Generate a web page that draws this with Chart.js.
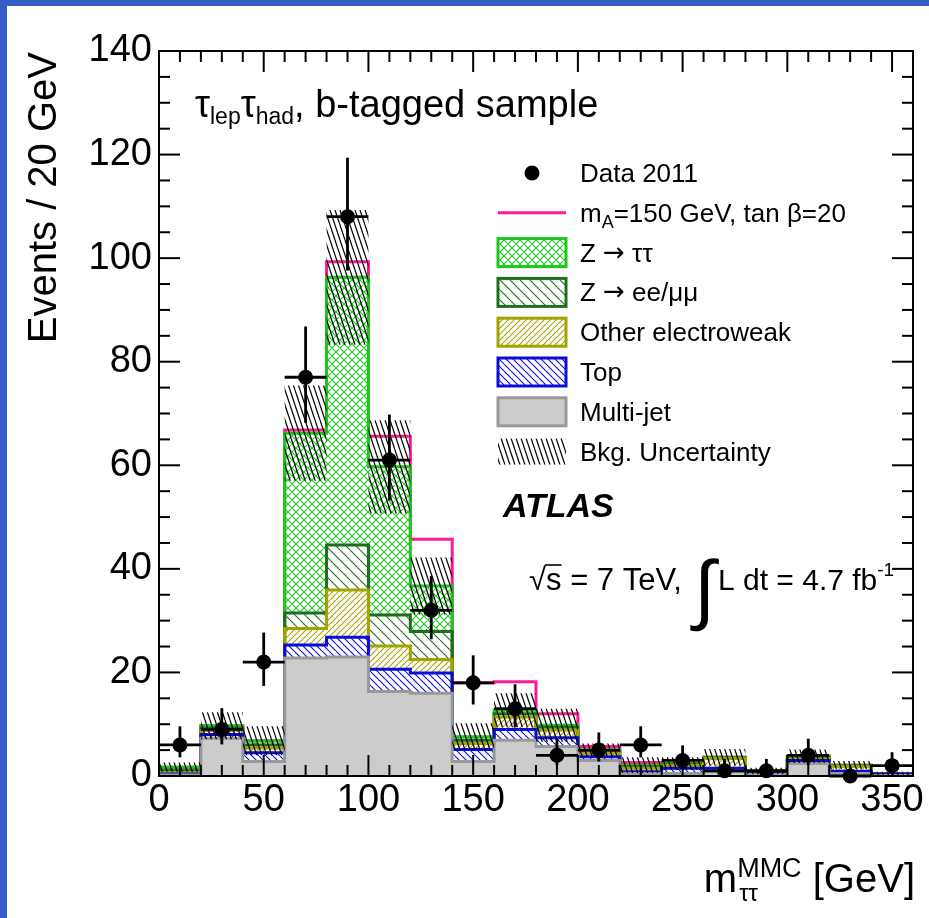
<!DOCTYPE html>
<html>
<head>
<meta charset="utf-8">
<script src="https://cdn.jsdelivr.net/npm/chart.js@4.4.1/dist/chart.umd.min.js"></script>
<style>
  html, body { margin: 0; padding: 0; background: #fff; }
  #wrap { position: relative; width: 929px; height: 918px; overflow: hidden; background: #fff; }
  #wrap canvas { position: absolute; left: 0; top: 0; }
  .edge { position: absolute; background: #345dc5; }
</style>
</head>
<body>
<div id="wrap">
  <canvas id="c" width="929" height="918"></canvas>
  <div class="edge" style="left:0;top:0;width:7px;height:918px;"></div>
  <div class="edge" style="left:0;top:0;width:929px;height:6px;"></div>
</div>
<script>
const FONT = "'Liberation Sans', Arial, Helvetica, sans-serif";
const SYMFONT = "'DejaVu Sans', 'Liberation Sans', sans-serif";

// Binning in m_tautau (GeV)
const binEdges = [0, 20, 40, 60, 80, 100, 120, 140, 160, 180, 200, 220, 240, 260, 280, 300, 320, 340, 360];
const binCenters = [10, 30, 50, 70, 90, 110, 130, 150, 170, 190, 210, 230, 250, 270, 290, 310, 330, 350];

// Observed events per bin with asymmetric Poisson errors
const dataCounts  = [6, 9, 22, 77, 108, 61, 32, 18, 13, 4, 5, 6, 3, 1, 1, 4, 0, 2];
const dataErrLow  = [2.4, 2.9, 4.6, 8.8, 10.4, 7.8, 5.6, 4.2, 3.6, 1.9, 2.2, 2.4, 1.6, 0.8, 0.8, 1.9, 0, 1.3];
const dataErrHigh = [3.6, 4.1, 5.7, 9.8, 11.4, 8.8, 6.6, 5.3, 4.7, 3.2, 3.4, 3.6, 2.9, 2.3, 2.3, 3.2, 0, 2.6];

// Expected background contributions per bin (stacked bottom to top)
const multijet = [0.2, 7.3, 2.8, 22.8, 23.0, 16.3, 16.0, 2.8, 6.9, 5.7, 3.0, 0.5, 0.5, 0.8, 0.3, 2.4, 0.5, 0.1];
const topQuark = [0.2, 0.7, 1.7, 2.5, 3.8, 4.3, 3.9, 2.3, 2.1, 1.7, 0.7, 0.3, 1.0, 0.7, 0.3, 0.6, 0.4, 0.3];
const otherEW  = [0.3, 0.8, 0.9, 3.2, 9.1, 4.5, 2.6, 1.2, 2.4, 1.5, 0.7, 0.7, 0.6, 1.9, 0.2, 0.3, 1.0, 0.05];
const zll      = [0.4, 0.4, 0.6, 3.0, 8.7, 6.0, 5.4, 0.6, 0.6, 0.5, 0.3, 0.3, 0.2, 0.1, 0.1, 0.2, 0.1, 0.05];
const ztautau  = [0.6, 0.5, 0.8, 34.7, 51.7, 28.6, 8.8, 0.7, 0.7, 0.4, 0.3, 0.3, 0.1, 0.1, 0.1, 0.3, 0.1, 0.0];
// Signal (m_A = 150 GeV, tan beta = 20) on top of the background
const signalA150 = [0, 0, 0, 0.6, 3.0, 5.9, 9.0, 10.4, 5.5, 2.2, 0.7, 0.5, 0, 0, 0, 0, 0, 0];
// Total background uncertainty (+/-)
const bkgUncertainty = [0.9, 2.6, 2.8, 9.2, 13.0, 9.0, 5.5, 2.6, 3.3, 3.2, 1.3, 1.5, 1.2, 1.6, 0.6, 1.3, 0.8, 0.3];

const xTickValues = [0, 50, 100, 150, 200, 250, 300, 350];
const yTickValues = [0, 20, 40, 60, 80, 100, 120, 140];

const legendLabels = ['Data 2011', 'SIGNAL', 'Z \u2192 \u03c4\u03c4', 'Z \u2192 ee/\u03bc\u03bc',
                      'Other electroweak', 'Top', 'Multi-jet', 'Bkg. Uncertainty'];

const C_ZTT = '#1dc71d', C_ZLL = '#1e6e1e', C_EW = '#a3a300', C_TOP = '#0a0adc';
const C_MJ_FILL = '#cccccc', C_MJ_LINE = '#999999', C_SIG = '#ff1a94';

const canvas = document.getElementById('c');
const mainCtx = canvas.getContext('2d');

// Hatch tile: 'back' = "\" lines, 'fwd' = "/" lines; w = horizontal spacing, h = vertical period
function hatch(color, w, h, dirs, lw) {
  const t = document.createElement('canvas');
  t.width = w; t.height = h;
  const g = t.getContext('2d');
  g.strokeStyle = color; g.lineWidth = lw;
  g.beginPath();
  for (const d of dirs) {
    for (let k = -1; k <= 1; k++) {
      if (d === 'back') { g.moveTo(k * w, 0); g.lineTo(k * w + w, h); }
      else { g.moveTo(k * w, h); g.lineTo(k * w + w, 0); }
    }
  }
  g.stroke();
  return mainCtx.createPattern(t, 'repeat');
}

const patZtt = hatch(C_ZTT, 8, 8, ['back', 'fwd'], 1.1);
const patZll = hatch(C_ZLL, 10, 10, ['back'], 1.1);
const patEW  = hatch(C_EW, 6, 6, ['fwd'], 1.1);
const patTop = hatch(C_TOP, 7, 7, ['back'], 1.1);
const patUnc = hatch('#000', 5, 15, ['back'], 1.2);

// Cumulative stack
const cumAdd = (a, b) => a.map((v, i) => v + b[i]);
const cumMJ  = multijet.slice();
const cumTop = cumAdd(cumMJ, topQuark);
const cumEW  = cumAdd(cumTop, otherEW);
const cumZll = cumAdd(cumEW, zll);
const cumZtt = cumAdd(cumZll, ztautau);
const cumSig = cumAdd(cumZtt, signalA150);
const uncLo = cumZtt.map((v, i) => Math.max(0, v - bkgUncertainty[i]));
const uncHi = cumZtt.map((v, i) => v + bkgUncertainty[i]);

// Step-histogram points: one per lower bin edge plus the closing edge
function histPoints(vals) {
  const pts = vals.map((v, i) => ({ x: binEdges[i], y: v }));
  pts.push({ x: binEdges[vals.length], y: vals[vals.length - 1] });
  return pts;
}

const stepLine = { type: 'line', pointRadius: 0, pointHoverRadius: 0, stepped: true, tension: 0, borderWidth: 3 };

const UNC_HI_INDEX = 7;

function seg(ctx, x1, y1, x2, y2) { ctx.beginPath(); ctx.moveTo(x1, y1); ctx.lineTo(x2, y2); ctx.stroke(); }

function drawFrameAndErrors(chart) {
  const ctx = chart.ctx;
  const xs = chart.scales.x, ys = chart.scales.y;
  const { left, right, top, bottom } = chart.chartArea;
  ctx.save();
  ctx.strokeStyle = '#000';
  ctx.lineWidth = 2;
  for (let v = 0; v <= 360; v += 10) {
    const px = xs.getPixelForValue(v);
    const len = v % 50 === 0 ? 21 : 11;
    seg(ctx, px, bottom, px, bottom - len);
    seg(ctx, px, top, px, top + len);
  }
  for (let v = 0; v <= 140; v += 5) {
    const py = ys.getPixelForValue(v);
    const len = v % 20 === 0 ? 21 : 11;
    seg(ctx, left, py, left + len, py);
    seg(ctx, right, py, right - len, py);
  }
  ctx.strokeRect(left, top, right - left, bottom - top);

  // data error bars
  ctx.lineWidth = 2.8;
  binCenters.forEach((c, i) => {
    const n = dataCounts[i];
    const py = ys.getPixelForValue(n);
    const px = xs.getPixelForValue(c);
    seg(ctx, xs.getPixelForValue(binEdges[i]), py, xs.getPixelForValue(binEdges[i + 1]), py);
    if (dataErrHigh[i] > 0 || dataErrLow[i] > 0) {
      seg(ctx, px, ys.getPixelForValue(n - dataErrLow[i]), px, ys.getPixelForValue(n + dataErrHigh[i]));
    }
  });
  ctx.restore();
}

function setFont(ctx, size, style, family) { ctx.font = (style || '') + ' ' + size + 'px ' + (family || FONT); }

// Draws a run of [text, size, baselineShift, style, family] pieces; returns end x
function drawRun(ctx, x, y, pieces) {
  ctx.textAlign = 'left'; ctx.textBaseline = 'alphabetic';
  for (const [s, size, dy, style, family] of pieces) {
    setFont(ctx, size, style, family);
    ctx.fillText(s, x, y + (dy || 0));
    x += ctx.measureText(s).width;
  }
  return x;
}

function drawAnnotations(chart) {
  const ctx = chart.ctx;
  const { top, right } = chart.chartArea;
  ctx.save();
  ctx.fillStyle = '#000';

  // y-axis title
  ctx.save();
  ctx.translate(56, top + 1);
  ctx.rotate(-Math.PI / 2);
  setFont(ctx, 40);
  ctx.textAlign = 'right'; ctx.textBaseline = 'alphabetic';
  ctx.fillText('Events / 20 GeV', 0, 0);
  ctx.restore();

  // x-axis title: m_{tautau}^{MMC} [GeV]
  setFont(ctx, 40);
  const wGeV = ctx.measureText(' [GeV]').width;
  const wM = ctx.measureText('m').width;
  setFont(ctx, 27);
  const wBlock = Math.max(ctx.measureText('MMC').width, ctx.measureText('\u03c4\u03c4').width);
  const xEnd = right + 2;
  const xm = xEnd - wGeV - wBlock - wM;
  const yb = 892;
  ctx.textAlign = 'left'; ctx.textBaseline = 'alphabetic';
  setFont(ctx, 40); ctx.fillText('m', xm, yb);
  setFont(ctx, 27); ctx.fillText('MMC', xm + wM, yb - 15);
  setFont(ctx, 24); ctx.fillText('\u03c4\u03c4', xm + wM + 2, yb + 9);
  setFont(ctx, 40); ctx.fillText(' [GeV]', xm + wM + wBlock, yb);

  // sample label
  drawRun(ctx, 195, 117, [
    ['\u03c4', 38, 0], ['lep', 23, 7], ['\u03c4', 38, 0], ['had', 23, 7], [', b-tagged sample', 38, 0]
  ]);

  // ATLAS
  setFont(ctx, 34, 'italic bold');
  ctx.textAlign = 'left';
  ctx.fillText('ATLAS', 503, 517);

  // sqrt(s) = 7 TeV, int L dt = 4.7 fb^-1
  const by = 590;
  let x = 529;
  setFont(ctx, 31);
  ctx.fillText('\u221a', x, by);
  x += ctx.measureText('\u221a').width;
  const sStart = x;
  ctx.fillText('s', x, by);
  x += ctx.measureText('s').width;
  ctx.save(); ctx.lineWidth = 1.6; ctx.strokeStyle = '#000';
  seg(ctx, sStart - 1, by - 25, x, by - 25);
  ctx.restore();
  ctx.fillText(' = 7 TeV, ', x, by);
  // large integral sign, spanning 558..632
  setFont(ctx, 100);
  let m = ctx.measureText('\u222b');
  const hh = m.actualBoundingBoxAscent + m.actualBoundingBoxDescent;
  const isz = 100 * 74 / hh;
  setFont(ctx, isz);
  m = ctx.measureText('\u222b');
  const ix = 690 + m.actualBoundingBoxLeft;
  ctx.fillText('\u222b', ix, 558 + m.actualBoundingBoxAscent);
  x = ix + m.actualBoundingBoxRight - 1;
  drawRun(ctx, x, by, [['L dt = 4.7 fb', 30, 0], ['-1', 19, -14]]);

  // legend
  const lx0 = 498, lx1 = 566, tx = 580;
  legendLabels.forEach((lab, i) => {
    const yc = 173 + 39.8 * i;
    ctx.save();
    if (i === 0) {
      ctx.fillStyle = '#000';
      ctx.beginPath(); ctx.arc((lx0 + lx1) / 2, yc, 7.5, 0, Math.PI * 2); ctx.fill();
    } else if (i === 1) {
      ctx.strokeStyle = C_SIG; ctx.lineWidth = 3;
      seg(ctx, lx0, yc, lx1, yc);
    } else if (i === 7) {
      ctx.fillStyle = patUnc;
      ctx.fillRect(lx0, yc - 13, lx1 - lx0, 26);
    } else {
      const fills = [null, null, patZtt, patZll, patEW, patTop, C_MJ_FILL];
      const lines = [null, null, C_ZTT, C_ZLL, C_EW, C_TOP, C_MJ_LINE];
      ctx.fillStyle = fills[i];
      ctx.fillRect(lx0, yc - 14, lx1 - lx0, 28);
      ctx.strokeStyle = lines[i]; ctx.lineWidth = 3;
      ctx.strokeRect(lx0, yc - 14, lx1 - lx0, 28);
    }
    ctx.restore();
    ctx.fillStyle = '#000';
    const ty = yc + 9;
    if (i === 1) {
      drawRun(ctx, tx, ty, [['m', 26, 0], ['A', 18, 6], ['=150 GeV, tan \u03b2=20', 26, 0]]);
    } else if (i === 2 || i === 3) {
      const parts = lab.split('\u2192');
      drawRun(ctx, tx, ty, [[parts[0], 26, 0], ['\u2192', 26, -1, '', SYMFONT], [parts[1], 26, 0]]);
    } else {
      drawRun(ctx, tx, ty, [[lab, 26, 0]]);
    }
  });
  ctx.restore();
}

const decor = {
  id: 'decor',
  afterDatasetDraw(chart, args) {
    if (args.index === UNC_HI_INDEX) drawFrameAndErrors(chart);
  },
  afterDraw(chart) { drawAnnotations(chart); }
};

new Chart(canvas, {
  type: 'line',
  data: {
    datasets: [
      { ...stepLine, label: 'Multi-jet', data: histPoints(cumMJ), borderColor: C_MJ_LINE, backgroundColor: C_MJ_FILL, fill: 'origin', order: 5 },
      { ...stepLine, label: 'Top', data: histPoints(cumTop), borderColor: C_TOP, backgroundColor: patTop, fill: '-1', order: 6 },
      { ...stepLine, label: 'Other electroweak', data: histPoints(cumEW), borderColor: C_EW, backgroundColor: patEW, fill: '-1', order: 7 },
      { ...stepLine, label: 'Z->ee/mumu', data: histPoints(cumZll), borderColor: C_ZLL, backgroundColor: patZll, fill: '-1', order: 8 },
      { ...stepLine, label: 'Z->tautau', data: histPoints(cumZtt), borderColor: C_ZTT, backgroundColor: patZtt, fill: '-1', order: 9 },
      { ...stepLine, label: 'mA=150', data: histPoints(cumSig), borderColor: C_SIG, fill: false, order: 10 },
      { ...stepLine, label: 'unc-low', data: histPoints(uncLo), borderWidth: 0, borderColor: 'rgba(0,0,0,0)', fill: false, order: 3 },
      { ...stepLine, label: 'Bkg. Uncertainty', data: histPoints(uncHi), borderWidth: 0, borderColor: 'rgba(0,0,0,0)', backgroundColor: patUnc, fill: '-1', order: 2 },
      { type: 'scatter', label: 'Data 2011', data: binCenters.map((x, i) => ({ x, y: dataCounts[i] })),
        pointRadius: 7.5, pointHoverRadius: 7.5, backgroundColor: '#000', borderColor: '#000', borderWidth: 0, order: 0, clip: false }
    ]
  },
  options: {
    responsive: false,
    animation: false,
    devicePixelRatio: 1,
    events: [],
    layout: { padding: { top: 51, right: 16, left: 0, bottom: 0 } },
    plugins: { legend: { display: false }, tooltip: { enabled: false }, title: { display: false } },
    scales: {
      x: {
        type: 'linear', min: 0, max: 360,
        grid: { display: false, drawTicks: false }, border: { display: false },
        afterBuildTicks: s => { s.ticks = xTickValues.map(v => ({ value: v })); },
        ticks: { autoSkip: false, maxRotation: 0, minRotation: 0, padding: 2, color: '#000',
                 font: { family: FONT, size: 38 } },
        afterFit: s => { s.height = 142; }
      },
      y: {
        type: 'linear', min: 0, max: 140,
        grid: { display: false, drawTicks: false }, border: { display: false },
        afterBuildTicks: s => { s.ticks = yTickValues.map(v => ({ value: v })); },
        ticks: { autoSkip: false, padding: 7, color: '#000', font: { family: FONT, size: 38 } },
        afterFit: s => { s.width = 159; }
      }
    }
  },
  plugins: [decor]
});
</script>
</body>
</html>
